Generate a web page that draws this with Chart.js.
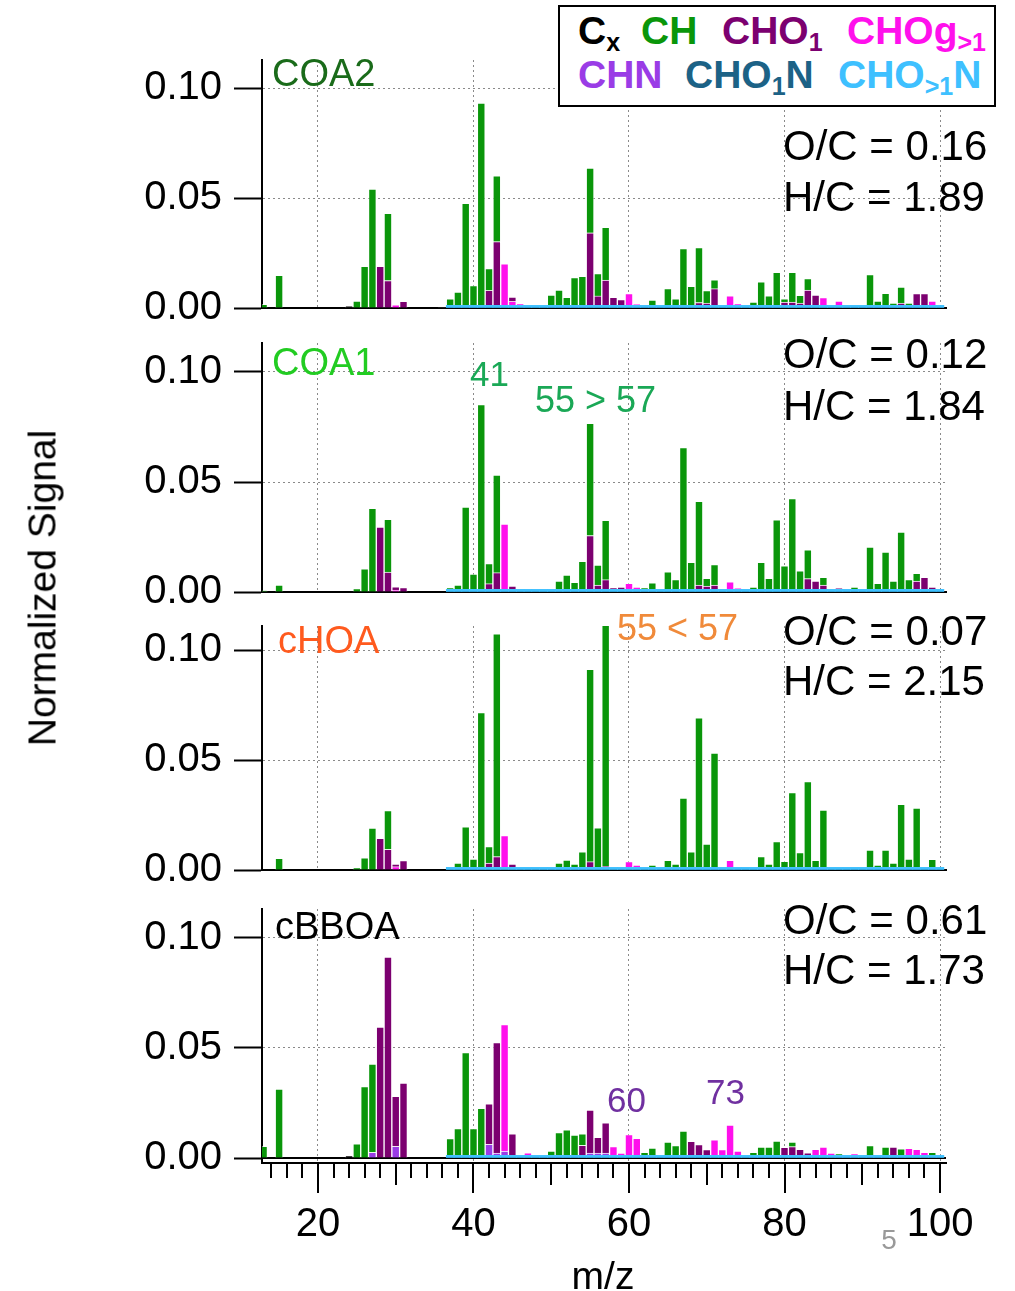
<!DOCTYPE html>
<html>
<head>
<meta charset="utf-8">
<script src="https://cdn.jsdelivr.net/npm/chart.js@4.4.1/dist/chart.umd.min.js"></script>
<style>
  html, body { margin: 0; padding: 0; background: #fff; }
  body { width: 1015px; height: 1291px; position: relative; overflow: hidden;
         font-family: "Liberation Sans", Arial, Helvetica, sans-serif; }
  canvas { position: absolute; left: 0; }
  .txt { position: absolute; line-height: 1; white-space: nowrap; }
  #legend { position: absolute; left: 558px; top: 5px; width: 438px; height: 102px;
            box-sizing: border-box; border: 2px solid #000; background: #fff; z-index: 5; }
  #legend span { position: absolute; font-weight: bold; font-size: 39px; line-height: 1; white-space: nowrap; }
  #legend sub { font-size: 25px; vertical-align: -0.28em; line-height: 0; }
</style>
</head>
<body>

<canvas id="p1"></canvas>
<canvas id="p2"></canvas>
<canvas id="p3"></canvas>
<canvas id="p4"></canvas>

<div id="legend">
  <span style="left:18px; top:4px; color:#000">C<sub>x</sub></span>
  <span style="left:81px; top:4px; color:#0a960a">CH</span>
  <span style="left:162px; top:4px; color:#7c0070">CHO<sub>1</sub></span>
  <span style="left:287px; top:4px; color:#ff10ec">CHOg<sub>&gt;1</sub></span>
  <span style="left:18px; top:48px; color:#9a3ce6">CHN</span>
  <span style="left:125px; top:48px; color:#1c6286">CHO<sub>1</sub>N</span>
  <span style="left:278px; top:48px; color:#3ec0ff">CHO<sub>&gt;1</sub>N</span>
</div>

<div class="txt" style="left:272px; top:54px; font-size:38px; color:#1a6b1a">COA2</div>
<div class="txt" style="left:272px; top:343px; font-size:38px; color:#22cc22">COA1</div>
<div class="txt" style="left:278px; top:621px; font-size:38px; color:#ff5a1e">cHOA</div>
<div class="txt" style="left:275px; top:907px; font-size:38px; color:#000">cBBOA</div>

<div class="txt" style="left:470px; top:356px; font-size:35px; color:#1aa856">41</div>
<div class="txt" style="left:535px; top:382px; font-size:36px; color:#1aa856">55 &gt; 57</div>
<div class="txt" style="left:617px; top:610px; font-size:36px; color:#f08a3a">55 &lt; 57</div>
<div class="txt" style="left:607px; top:1082px; font-size:35px; color:#7030a0">60</div>
<div class="txt" style="left:706px; top:1074px; font-size:35px; color:#7030a0">73</div>

<div class="txt" style="left:783px; top:125px; font-size:42px">O/C = 0.16</div>
<div class="txt" style="left:783px; top:176px; font-size:42px">H/C = 1.89</div>
<div class="txt" style="left:783px; top:333px; font-size:42px">O/C = 0.12</div>
<div class="txt" style="left:783px; top:385px; font-size:42px">H/C = 1.84</div>
<div class="txt" style="left:783px; top:610px; font-size:42px">O/C = 0.07</div>
<div class="txt" style="left:783px; top:660px; font-size:42px">H/C = 2.15</div>
<div class="txt" style="left:783px; top:899px; font-size:42px">O/C = 0.61</div>
<div class="txt" style="left:783px; top:949px; font-size:42px">H/C = 1.73</div>

<div class="txt" style="left:42px; top:588px; font-size:39px; transform:translate(-50%,-50%) rotate(-90deg)">Normalized Signal</div>
<div class="txt" style="left:603px; top:1275px; font-size:39px; transform:translate(-50%,-50%)">m/z</div>
<div class="txt" style="left:889px; top:1240px; font-size:28px; color:#999; transform:translate(-50%,-50%)">5</div>

<script>
// ---- axis setup ----
const mzMin = 12.8;
const mzMax = 100.77;
const mzTicks = [20, 40, 60, 80, 100];
const yTicks = [0, 0.05, 0.10];

// ---- spectra, [m/z, signal] per ion family ----
const coa2Cx = [[24, 0.0008], [36, 0.0004]];
const coa2CH = [[13, 0.0017], [15, 0.0148], [25, 0.0032], [26, 0.0189], [27, 0.054], [29, 0.0305],
  [37, 0.003], [38, 0.006], [39, 0.0464], [40, 0.009], [41, 0.092], [42, 0.0099], [43, 0.0299],
  [50, 0.0047], [51, 0.007], [52, 0.0037], [53, 0.0126], [54, 0.0132], [55, 0.0294], [56, 0.0102],
  [57, 0.024], [63, 0.0024], [65, 0.0076], [66, 0.003], [67, 0.0258], [68, 0.0087], [69, 0.025],
  [70, 0.0057], [71, 0.004], [76, 0.0015], [77, 0.0107], [78, 0.0043], [79, 0.015], [80, 0.0015],
  [81, 0.0135], [82, 0.0036], [83, 0.0052], [91, 0.014], [92, 0.002], [93, 0.0055], [94, 0.001],
  [95, 0.0073], [96, 0.001]];
const coa2CHO1 = [[28, 0.0189], [29, 0.0125], [31, 0.003], [42, 0.0068], [43, 0.029], [45, 0.002],
  [55, 0.033], [56, 0.0043], [57, 0.0115], [58, 0.0037], [59, 0.0026], [69, 0.0013], [70, 0.001],
  [71, 0.0076], [80, 0.0015], [81, 0.0015], [82, 0.001], [83, 0.007], [84, 0.0047], [95, 0.001],
  [97, 0.0054], [98, 0.0054]];
const coa2CHOgt1 = [[30, 0.0014], [44, 0.0189], [45, 0.0018], [46, 0.0006], [60, 0.0054], [61, 0.0005],
  [73, 0.0043], [74, 0.0008], [85, 0.0035], [87, 0.002], [99, 0.002]];

const coa1CH = [[13, 0.0005], [15, 0.0032], [25, 0.0015], [26, 0.0105], [27, 0.038], [29, 0.024],
  [37, 0.0008], [38, 0.002], [39, 0.0374], [40, 0.007], [41, 0.084], [42, 0.0091], [43, 0.0444],
  [51, 0.0038], [52, 0.0065], [53, 0.0032], [54, 0.0127], [55, 0.051], [56, 0.009], [57, 0.027],
  [62, 0.0008], [63, 0.003], [65, 0.008], [66, 0.0044], [67, 0.0645], [68, 0.0123], [69, 0.038],
  [70, 0.0035], [71, 0.0093], [76, 0.001], [77, 0.0123], [78, 0.005], [79, 0.0316], [80, 0.0107],
  [81, 0.0413], [82, 0.0084], [83, 0.0131], [85, 0.0035], [89, 0.001], [91, 0.0192], [92, 0.0027],
  [93, 0.017], [94, 0.0038], [95, 0.026], [96, 0.0044], [97, 0.0035]];
const coa1CHO1 = [[28, 0.0295], [29, 0.009], [30, 0.0015], [31, 0.002], [42, 0.0026], [43, 0.0076],
  [45, 0.0015], [55, 0.0245], [56, 0.002], [57, 0.0044], [58, 0.0008], [59, 0.001], [69, 0.002],
  [70, 0.0015], [71, 0.002], [83, 0.0049], [84, 0.0038], [85, 0.002], [87, 0.0005], [97, 0.0038],
  [98, 0.0055], [99, 0.001]];
const coa1CHOgt1 = [[30, 0.0009], [44, 0.0297], [60, 0.0027], [61, 0.001], [73, 0.0034], [74, 0.0005]];

const choaCH = [[15, 0.0053], [25, 0.001], [26, 0.0055], [27, 0.019], [29, 0.0176], [38, 0.002],
  [39, 0.0184], [40, 0.0038], [41, 0.0704], [42, 0.0074], [43, 0.1013], [51, 0.002], [52, 0.0033],
  [53, 0.0015], [54, 0.0071], [55, 0.0874], [56, 0.018], [57, 0.11], [63, 0.001], [65, 0.0032],
  [66, 0.0015], [67, 0.0315], [68, 0.0071], [69, 0.068], [70, 0.0106], [71, 0.052], [77, 0.0049],
  [78, 0.0015], [79, 0.0117], [80, 0.0027], [81, 0.034], [82, 0.0067], [83, 0.039], [84, 0.0032],
  [85, 0.026], [91, 0.0078], [92, 0.001], [93, 0.0078], [94, 0.002], [95, 0.0286], [96, 0.0038],
  [97, 0.027], [99, 0.0036]];
const choaCHO1 = [[28, 0.0144], [29, 0.0094], [30, 0.0012], [31, 0.0043], [42, 0.002], [43, 0.0049],
  [45, 0.0015], [55, 0.0026], [57, 0.0005]];
const choaCHOgt1 = [[30, 0.0015], [44, 0.0144], [60, 0.0026], [61, 0.001], [73, 0.0032]];

const cbboaCx = [[24, 0.001]];
const cbboaCH = [[13, 0.0053], [15, 0.0313], [25, 0.0064], [26, 0.0325], [27, 0.0401], [37, 0.0076],
  [38, 0.0122], [39, 0.0467], [40, 0.0122], [41, 0.0214], [50, 0.002], [51, 0.0104], [52, 0.0116],
  [53, 0.0092], [54, 0.0052], [62, 0.0014], [63, 0.0033], [65, 0.006], [66, 0.0044], [67, 0.011],
  [76, 0.0014], [77, 0.0038], [78, 0.0038], [79, 0.0065], [81, 0.002], [87, 0.0008], [91, 0.0044],
  [93, 0.0038], [95, 0.003], [99, 0.0014]];
const cbboaCHO1 = [[28, 0.0595], [29, 0.0913], [30, 0.0227], [31, 0.034], [42, 0.0184], [43, 0.0503],
  [45, 0.0098], [54, 0.0046], [55, 0.0196], [56, 0.0072], [57, 0.0138], [68, 0.0064], [69, 0.0049],
  [70, 0.0026], [80, 0.0036], [81, 0.004], [82, 0.0027], [83, 0.0012], [94, 0.0038]];
const cbboaCHOgt1 = [[44, 0.0575], [47, 0.0012], [58, 0.004], [59, 0.001], [60, 0.0094], [61, 0.0077],
  [71, 0.0071], [72, 0.0026], [73, 0.0138], [74, 0.002], [84, 0.0027], [85, 0.0038], [86, 0.001],
  [89, 0.0008], [96, 0.0032], [97, 0.0027], [98, 0.0014]];
const cbboaCHN = [[27, 0.0026], [30, 0.0053], [42, 0.005], [43, 0.001], [44, 0.002], [55, 0.001],
  [56, 0.001], [57, 0.001]];

// CHO>1N is only a trace in every factor: same small level from m/z 37 up
const cho2nMz = [37, 38, 39, 40, 41, 42, 43, 44, 45, 46, 47, 48, 49, 50, 51, 52, 53, 54, 55, 56, 57, 58,
  59, 60, 61, 62, 63, 64, 65, 66, 67, 68, 69, 70, 71, 72, 73, 74, 75, 76, 77, 78, 79, 80, 81, 82, 83,
  84, 85, 86, 87, 88, 89, 90, 91, 92, 93, 94, 95, 96, 97, 98, 99, 100];
const cho2nLevel = 0.0012;
const cho2nTrace = cho2nMz.map(m => [m, cho2nLevel]);

// bottom of the stack first
const families = [
  { key: 'CHO2N', color: '#3ec0ff' },
  { key: 'CHO1N', color: '#1c6286' },
  { key: 'CHN', color: '#9a3ce6' },
  { key: 'CHOgt1', color: '#ff10ec' },
  { key: 'CHO1', color: '#7c0070' },
  { key: 'CH', color: '#0a960a' },
  { key: 'Cx', color: '#000000' }
];

const pxPerUnit = 2200;   // 0.10 -> 220 px
const chartRight = 946;
const fontFamily = '"Liberation Sans", Arial, sans-serif';

const panels = [
  { id: 'p1', top: 60, zero: 308, bottom: 308,
    series: { CHO2N: cho2nTrace, CHOgt1: coa2CHOgt1, CHO1: coa2CHO1, CH: coa2CH, Cx: coa2Cx } },
  { id: 'p2', top: 343, zero: 592, bottom: 592,
    series: { CHO2N: cho2nTrace, CHOgt1: coa1CHOgt1, CHO1: coa1CHO1, CH: coa1CH } },
  { id: 'p3', top: 626, zero: 870, bottom: 870,
    series: { CHO2N: cho2nTrace, CHOgt1: choaCHOgt1, CHO1: choaCHO1, CH: choaCH } },
  { id: 'p4', top: 909, zero: 1158, bottom: 1163,
    series: { CHO2N: cho2nTrace, CHN: cbboaCHN, CHOgt1: cbboaCHOgt1, CHO1: cbboaCHO1, CH: cbboaCH, Cx: cbboaCx } }
];

// black line along signal = 0
const zeroLine = {
  id: 'zeroLine',
  beforeDatasetsDraw(chart) {
    const { ctx, chartArea, scales } = chart;
    const y = scales.y.getPixelForValue(0);
    ctx.save();
    ctx.strokeStyle = '#000';
    ctx.lineWidth = 2;
    ctx.beginPath();
    ctx.moveTo(chartArea.left, y);
    ctx.lineTo(chartArea.right, y);
    ctx.stroke();
    ctx.restore();
  }
};

// m/z tick marks: every 2, longer at 10s, longest at 20s
const mzTickMarks = {
  id: 'mzTickMarks',
  afterDraw(chart) {
    if (!chart.options.plugins.mzTickMarks.show) return;
    const { ctx, chartArea, scales } = chart;
    ctx.save();
    ctx.strokeStyle = '#000';
    ctx.lineWidth = 2;
    for (let m = 14; m <= 100; m += 2) {
      const len = m % 20 === 0 ? 30 : (m % 10 === 0 ? 22 : 15);
      const x = Math.round(scales.x.getPixelForValue(m));
      ctx.beginPath();
      ctx.moveTo(x, chartArea.bottom);
      ctx.lineTo(x, chartArea.bottom + len);
      ctx.stroke();
    }
    ctx.restore();
  }
};

function buildPanel(p, isBottom) {
  const canvas = document.getElementById(p.id);
  const padTop = 40;
  const padBottom = isBottom ? 0 : 40;
  const xAxisH = isBottom ? 128 : 0;
  canvas.width = 1015;
  canvas.height = padTop + (p.bottom - p.top) + xAxisH + padBottom;
  canvas.style.top = (p.top - padTop) + 'px';

  const datasets = families
    .filter(f => p.series[f.key])
    .map(f => ({
      label: f.key,
      data: p.series[f.key].map(([x, y]) => ({ x, y })),
      backgroundColor: f.color,
      borderColor: 'rgba(255,255,255,0.5)',
      borderWidth: f.key === 'CHO2N' ? 0 : 1,
      barPercentage: 1,
      categoryPercentage: 1
    }));

  return new Chart(canvas, {
    type: 'bar',
    data: { datasets },
    options: {
      responsive: false,
      animation: false,
      layout: { padding: { top: padTop, bottom: padBottom, left: 0, right: 1015 - chartRight } },
      plugins: {
        legend: { display: false },
        tooltip: { enabled: false },
        mzTickMarks: { show: isBottom }
      },
      scales: {
        x: {
          type: 'linear',
          stacked: true,
          offset: false,
          min: mzMin,
          max: mzMax,
          afterBuildTicks: s => { s.ticks = mzTicks.map(v => ({ value: v })); },
          afterFit: s => { s.height = xAxisH; },
          grid: { offset: false, color: '#8a8a8a', lineWidth: 1, drawTicks: false },
          border: { display: true, color: '#000', width: 2, dash: [2, 3] },
          ticks: {
            display: isBottom,
            padding: 38,
            color: '#000',
            font: { family: fontFamily, size: 40 },
            maxRotation: 0
          }
        },
        y: {
          stacked: true,
          min: (p.zero - p.bottom) / pxPerUnit,
          max: (p.zero - p.top) / pxPerUnit,
          afterBuildTicks: s => { s.ticks = yTicks.map(v => ({ value: v })); },
          afterFit: s => { s.width = 262; },
          grid: {
            color: '#8a8a8a', lineWidth: 1,
            tickLength: 28, tickWidth: 2, tickColor: '#000', tickBorderDash: []
          },
          border: { display: true, color: '#000', width: 2, dash: [2, 3] },
          ticks: {
            padding: 12,
            color: '#000',
            font: { family: fontFamily, size: 40 },
            callback: v => Number(v).toFixed(2)
          }
        }
      }
    },
    plugins: [zeroLine, mzTickMarks]
  });
}

panels.forEach((p, i) => buildPanel(p, i === panels.length - 1));
</script>
</body>
</html>
